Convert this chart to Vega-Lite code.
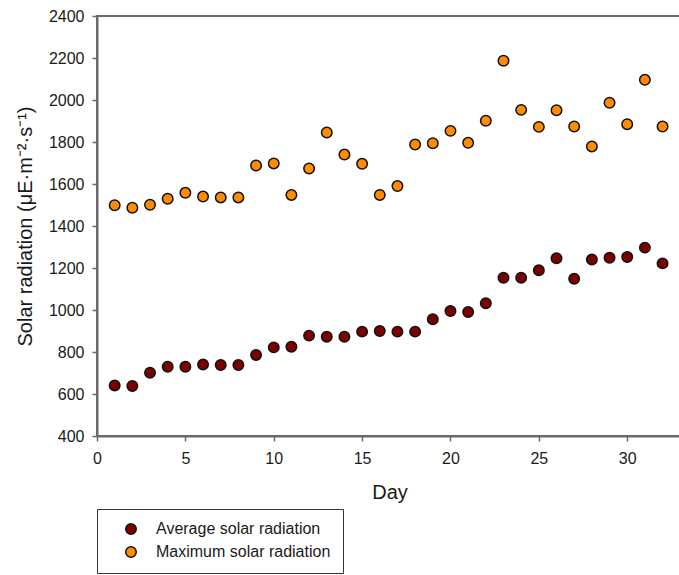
{
  "$schema": "https://vega.github.io/schema/vega-lite/v6.json",
  "autosize": "none",
  "padding": {"left": 97, "top": 16, "right": 0, "bottom": 139},
  "width": 585,
  "height": 420,
  "background": "white",
  "config": {
    "font": "Liberation Sans",
    "view": {"stroke": "#6b6b6b", "strokeWidth": 2},
    "axis": {
      "grid": false,
      "domainColor": "#6b6b6b",
      "domainWidth": 2,
      "tickColor": "#6b6b6b",
      "tickWidth": 1.5,
      "tickSize": 5,
      "labelFont": "Liberation Sans",
      "labelFontSize": 16,
      "labelColor": "#1a1a1a",
      "titleFont": "Liberation Sans",
      "titleFontSize": 20,
      "titleFontWeight": "normal",
      "titleColor": "#1a1a1a"
    },
    "legend": {
      "labelFont": "Liberation Sans",
      "labelFontSize": 16,
      "labelColor": "#1a1a1a"
    }
  },
  "datasets": {
    "rad": [
      {"day": 1, "series": "Average solar radiation", "value": 641},
      {"day": 2, "series": "Average solar radiation", "value": 638},
      {"day": 3, "series": "Average solar radiation", "value": 701},
      {"day": 4, "series": "Average solar radiation", "value": 730},
      {"day": 5, "series": "Average solar radiation", "value": 730},
      {"day": 6, "series": "Average solar radiation", "value": 741},
      {"day": 7, "series": "Average solar radiation", "value": 738},
      {"day": 8, "series": "Average solar radiation", "value": 738},
      {"day": 9, "series": "Average solar radiation", "value": 786},
      {"day": 10, "series": "Average solar radiation", "value": 822},
      {"day": 11, "series": "Average solar radiation", "value": 825},
      {"day": 12, "series": "Average solar radiation", "value": 878},
      {"day": 13, "series": "Average solar radiation", "value": 873},
      {"day": 14, "series": "Average solar radiation", "value": 873},
      {"day": 15, "series": "Average solar radiation", "value": 897},
      {"day": 16, "series": "Average solar radiation", "value": 900},
      {"day": 17, "series": "Average solar radiation", "value": 897},
      {"day": 18, "series": "Average solar radiation", "value": 897},
      {"day": 19, "series": "Average solar radiation", "value": 956},
      {"day": 20, "series": "Average solar radiation", "value": 995},
      {"day": 21, "series": "Average solar radiation", "value": 990},
      {"day": 22, "series": "Average solar radiation", "value": 1032},
      {"day": 23, "series": "Average solar radiation", "value": 1154},
      {"day": 24, "series": "Average solar radiation", "value": 1154},
      {"day": 25, "series": "Average solar radiation", "value": 1189},
      {"day": 26, "series": "Average solar radiation", "value": 1246},
      {"day": 27, "series": "Average solar radiation", "value": 1149},
      {"day": 28, "series": "Average solar radiation", "value": 1240},
      {"day": 29, "series": "Average solar radiation", "value": 1249},
      {"day": 30, "series": "Average solar radiation", "value": 1252},
      {"day": 31, "series": "Average solar radiation", "value": 1297},
      {"day": 32, "series": "Average solar radiation", "value": 1222},
      {"day": 1, "series": "Maximum solar radiation", "value": 1499},
      {"day": 2, "series": "Maximum solar radiation", "value": 1487},
      {"day": 3, "series": "Maximum solar radiation", "value": 1501},
      {"day": 4, "series": "Maximum solar radiation", "value": 1530},
      {"day": 5, "series": "Maximum solar radiation", "value": 1558},
      {"day": 6, "series": "Maximum solar radiation", "value": 1540},
      {"day": 7, "series": "Maximum solar radiation", "value": 1536},
      {"day": 8, "series": "Maximum solar radiation", "value": 1536},
      {"day": 9, "series": "Maximum solar radiation", "value": 1688},
      {"day": 10, "series": "Maximum solar radiation", "value": 1698},
      {"day": 11, "series": "Maximum solar radiation", "value": 1548},
      {"day": 12, "series": "Maximum solar radiation", "value": 1674},
      {"day": 13, "series": "Maximum solar radiation", "value": 1845},
      {"day": 14, "series": "Maximum solar radiation", "value": 1740},
      {"day": 15, "series": "Maximum solar radiation", "value": 1696},
      {"day": 16, "series": "Maximum solar radiation", "value": 1548},
      {"day": 17, "series": "Maximum solar radiation", "value": 1590},
      {"day": 18, "series": "Maximum solar radiation", "value": 1788},
      {"day": 19, "series": "Maximum solar radiation", "value": 1794},
      {"day": 20, "series": "Maximum solar radiation", "value": 1853},
      {"day": 21, "series": "Maximum solar radiation", "value": 1796},
      {"day": 22, "series": "Maximum solar radiation", "value": 1901},
      {"day": 23, "series": "Maximum solar radiation", "value": 2187},
      {"day": 24, "series": "Maximum solar radiation", "value": 1953},
      {"day": 25, "series": "Maximum solar radiation", "value": 1872},
      {"day": 26, "series": "Maximum solar radiation", "value": 1951},
      {"day": 27, "series": "Maximum solar radiation", "value": 1874},
      {"day": 28, "series": "Maximum solar radiation", "value": 1779},
      {"day": 29, "series": "Maximum solar radiation", "value": 1987},
      {"day": 30, "series": "Maximum solar radiation", "value": 1885},
      {"day": 31, "series": "Maximum solar radiation", "value": 2096},
      {"day": 32, "series": "Maximum solar radiation", "value": 1874}
    ]
  },
  "data": {"name": "rad"},
  "mark": {"type": "point", "filled": true, "shape": "circle", "size": 110, "stroke": "#111111", "strokeWidth": 1.5, "opacity": 1},
  "encoding": {
    "x": {
      "field": "day",
      "type": "quantitative",
      "scale": {"domain": [0, 33.1], "nice": false, "zero": false},
      "axis": {"title": "Day", "format": "d", "values": [0, 5, 10, 15, 20, 25, 30], "labelFontSize": 16, "labelPadding": 9, "titlePadding": 16, "labelFlush": false}
    },
    "y": {
      "field": "value",
      "type": "quantitative",
      "scale": {"domain": [400, 2400], "nice": false, "zero": false},
      "axis": {"title": "Solar radiation (μE·m⁻²·s⁻¹)", "format": "d", "values": [400, 600, 800, 1000, 1200, 1400, 1600, 1800, 2000, 2200, 2400], "labelFontSize": 16, "labelPadding": 8, "titlePadding": 13, "labelFlush": false}
    },
    "color": {
      "field": "series",
      "type": "nominal",
      "scale": {"domain": ["Average solar radiation", "Maximum solar radiation"], "range": ["#7d0000", "#ff8c00"]},
      "legend": {
        "title": null,
        "orient": "none",
        "legendX": 0,
        "legendY": 493,
        "direction": "vertical",
        "padding": 12,
        "strokeColor": "#333333",
        "symbolType": "circle",
        "symbolSize": 110,
        "symbolStrokeColor": "#111111",
        "symbolStrokeWidth": 1.5,
        "symbolOffset": 14,
        "labelOffset": 17,
        "labelLimit": 300,
        "rowPadding": 5
      }
    }
  }
}
